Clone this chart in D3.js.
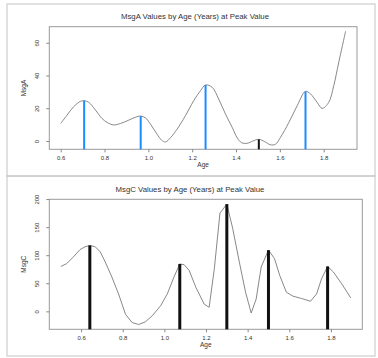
<!DOCTYPE html>
<html>
<head>
<meta charset="utf-8">
<script src="https://cdn.jsdelivr.net/npm/d3@7"></script>
<style>
  body { margin: 0; background: #fff; }
  text { font-family: "Liberation Sans", Arial, sans-serif; fill: #333; }
</style>
</head>
<body>
<svg id="chart" width="378" height="358"></svg>
<script>
// MsgA curve (top panel)
var ageA = [0.600, 0.629, 0.659, 0.690, 0.707, 0.728, 0.758, 0.789, 0.812, 0.842, 0.873, 0.910, 0.941, 0.965,
  0.987, 1.010, 1.040, 1.060, 1.078, 1.101, 1.131, 1.169, 1.207, 1.238, 1.261, 1.291, 1.321, 1.352, 1.383,
  1.405, 1.425, 1.451, 1.477, 1.504, 1.531, 1.557, 1.580, 1.602, 1.641, 1.679, 1.717, 1.740, 1.770, 1.793,
  1.823, 1.846, 1.869, 1.900];
var msgA = [10.7, 15.8, 20.9, 24.2, 24.6, 23.6, 19.0, 13.7, 11.3, 9.8, 10.7, 12.7, 14.5, 15.2,
  14.1, 10.2, 4.1, 0.6, -0.6, 2.0, 7.2, 15.4, 24.6, 30.7, 34.2, 32.8, 25.6, 16.4, 8.2,
  2.0, -1.0, -1.4, 0.0, 1.0, -0.4, -2.3, -2.0, 2.0, 11.3, 21.5, 30.3, 28.7, 23.6, 19.9,
  23.6, 33.8, 48.2, 67.0];
var peakAgeA = [0.707, 0.965, 1.261, 1.504, 1.717];
var peakA = [24.6, 15.2, 34.2, 1.0, 30.3];
var peakKindA = ["peak", "peak", "peak", "minor", "peak"];

// MsgC curve (bottom panel)
var ageC = [0.503, 0.531, 0.563, 0.595, 0.619, 0.642, 0.668, 0.692, 0.716, 0.748, 0.780, 0.813, 0.845, 0.877,
  0.909, 0.942, 0.982, 1.014, 1.046, 1.074, 1.095, 1.119, 1.151, 1.191, 1.215, 1.240, 1.267, 1.300, 1.328,
  1.360, 1.390, 1.417, 1.441, 1.465, 1.500, 1.529, 1.554, 1.586, 1.618, 1.658, 1.702, 1.731, 1.755, 1.784,
  1.812, 1.852, 1.895];
var msgC = [80, 85, 97, 110, 115, 117.4, 115, 106, 88, 61, 31, -5, -20, -23.4,
  -18.6, -7.8, 10, 31, 61, 84.4, 83, 73, 43, 13, 7.2, 76, 175, 191, 148,
  88, 34, -3, 22, 79, 109, 94, 64, 34, 27, 23, 18, 31, 58, 80,
  70, 49, 24];
var peakAgeC = [0.642, 1.074, 1.300, 1.500, 1.784];
var peakC = [117.4, 84.4, 191, 109, 80];
var peakKindC = ["minor", "minor", "minor", "minor", "minor"];

var xTicks = [0.6, 0.8, 1.0, 1.2, 1.4, 1.6, 1.8];
var yTicksA = [0, 20, 40, 60];
var yTicksC = [0, 50, 100, 150, 200];

var svg = d3.select("#chart");

// R-style 4% padding around data range
function padded(vals) {
  var e = d3.extent(vals), p = (e[1] - e[0]) * 0.04;
  return [e[0] - p, e[1] + p];
}

function panel(opt) {
  var g = svg.append("g");

  g.append("rect")
    .attr("x", opt.frame[0]).attr("y", opt.frame[1])
    .attr("width", opt.frame[2]).attr("height", opt.frame[3])
    .attr("fill", "none").attr("stroke", "#c4c4c4").attr("stroke-width", 1);

  var x = d3.scaleLinear().domain(padded(opt.ages)).range([opt.box[0], opt.box[2]]);
  var y = d3.scaleLinear().domain(padded(opt.vals)).range([opt.box[3], opt.box[1]]);

  g.append("rect")
    .attr("x", opt.box[0]).attr("y", opt.box[1])
    .attr("width", opt.box[2] - opt.box[0]).attr("height", opt.box[3] - opt.box[1])
    .attr("fill", "none").attr("stroke", "#9a9a9a").attr("stroke-width", 1);

  // x axis
  var xa = g.append("g")
    .attr("transform", "translate(0," + opt.box[3] + ")")
    .call(d3.axisBottom(x).tickValues(xTicks).tickFormat(d3.format(".1f")).tickSize(3).tickPadding(3));
  xa.select(".domain").remove();
  xa.selectAll("line").attr("stroke", "#888");
  xa.selectAll("text").attr("font-size", 6).style("font-family", "Liberation Sans, Arial, sans-serif").attr("fill", "#333");

  // y axis
  var ya = g.append("g")
    .attr("transform", "translate(" + opt.box[0] + ",0)")
    .call(d3.axisLeft(y).tickValues(opt.yTicks).tickSize(3).tickFormat(d3.format("d")));
  ya.select(".domain").remove();
  ya.selectAll("line").attr("stroke", "#888");
  ya.selectAll("text")
    .attr("font-size", 6).style("font-family", "Liberation Sans, Arial, sans-serif").attr("fill", "#333")
    .attr("x", 0).attr("dy", 0)
    .attr("text-anchor", "middle")
    .attr("transform", "translate(-10,0) rotate(-90)");

  // curve
  var line = d3.line()
    .x(function(d, i) { return x(opt.ages[i]); })
    .y(function(d) { return y(d); })
    .curve(opt.curve);
  g.append("path")
    .datum(opt.vals)
    .attr("d", line)
    .attr("fill", "none")
    .attr("stroke", "#7a7a7a")
    .attr("stroke-width", 0.9);

  // peak markers
  g.selectAll(".peak")
    .data(opt.peakAges)
    .enter().append("line")
    .attr("class", "peak")
    .attr("x1", function(d) { return x(d); })
    .attr("x2", function(d) { return x(d); })
    .attr("y1", opt.box[3])
    .attr("y2", function(d, i) { return y(opt.peaks[i]); })
    .attr("stroke", function(d, i) { return opt.peakKinds[i] == "peak" ? "#1a8cff" : "#111"; })
    .attr("stroke-width", function(d, i) { return opt.peakKinds[i] == "peak" ? 2 : opt.heavy; });

  g.append("text")
    .attr("x", opt.titlePos[0]).attr("y", opt.titlePos[1])
    .attr("text-anchor", "middle").attr("font-size", 7.8)
    .text(opt.title);

  g.append("text")
    .attr("x", (opt.box[0] + opt.box[2]) / 2).attr("y", opt.box[3] + 18)
    .attr("text-anchor", "middle").attr("font-size", 6.5)
    .text("Age");

  g.append("text")
    .attr("transform", "translate(" + (opt.box[0] - 23) + "," + ((opt.box[1] + opt.box[3]) / 2) + ") rotate(-90)")
    .attr("text-anchor", "middle").attr("font-size", 6.5)
    .text(opt.ylab);
}

panel({
  frame: [7, 4, 368, 172],
  box: [49.3, 26.7, 357, 149.3],
  ages: ageA, vals: msgA,
  peakAges: peakAgeA, peaks: peakA, peakKinds: peakKindA, heavy: 2,
  yTicks: yTicksA,
  curve: d3.curveCatmullRom,
  title: "MsgA Values by Age (Years) at Peak Value",
  titlePos: [195, 19],
  ylab: "MsgA"
});

panel({
  frame: [7, 176, 368, 180],
  box: [49.3, 199.3, 362.3, 329.3],
  ages: ageC, vals: msgC,
  peakAges: peakAgeC, peaks: peakC, peakKinds: peakKindC, heavy: 3,
  yTicks: yTicksC,
  curve: d3.curveLinear,
  title: "MsgC Values by Age (Years) at Peak Value",
  titlePos: [190, 192],
  ylab: "MsgC"
});
</script>
</body>
</html>
